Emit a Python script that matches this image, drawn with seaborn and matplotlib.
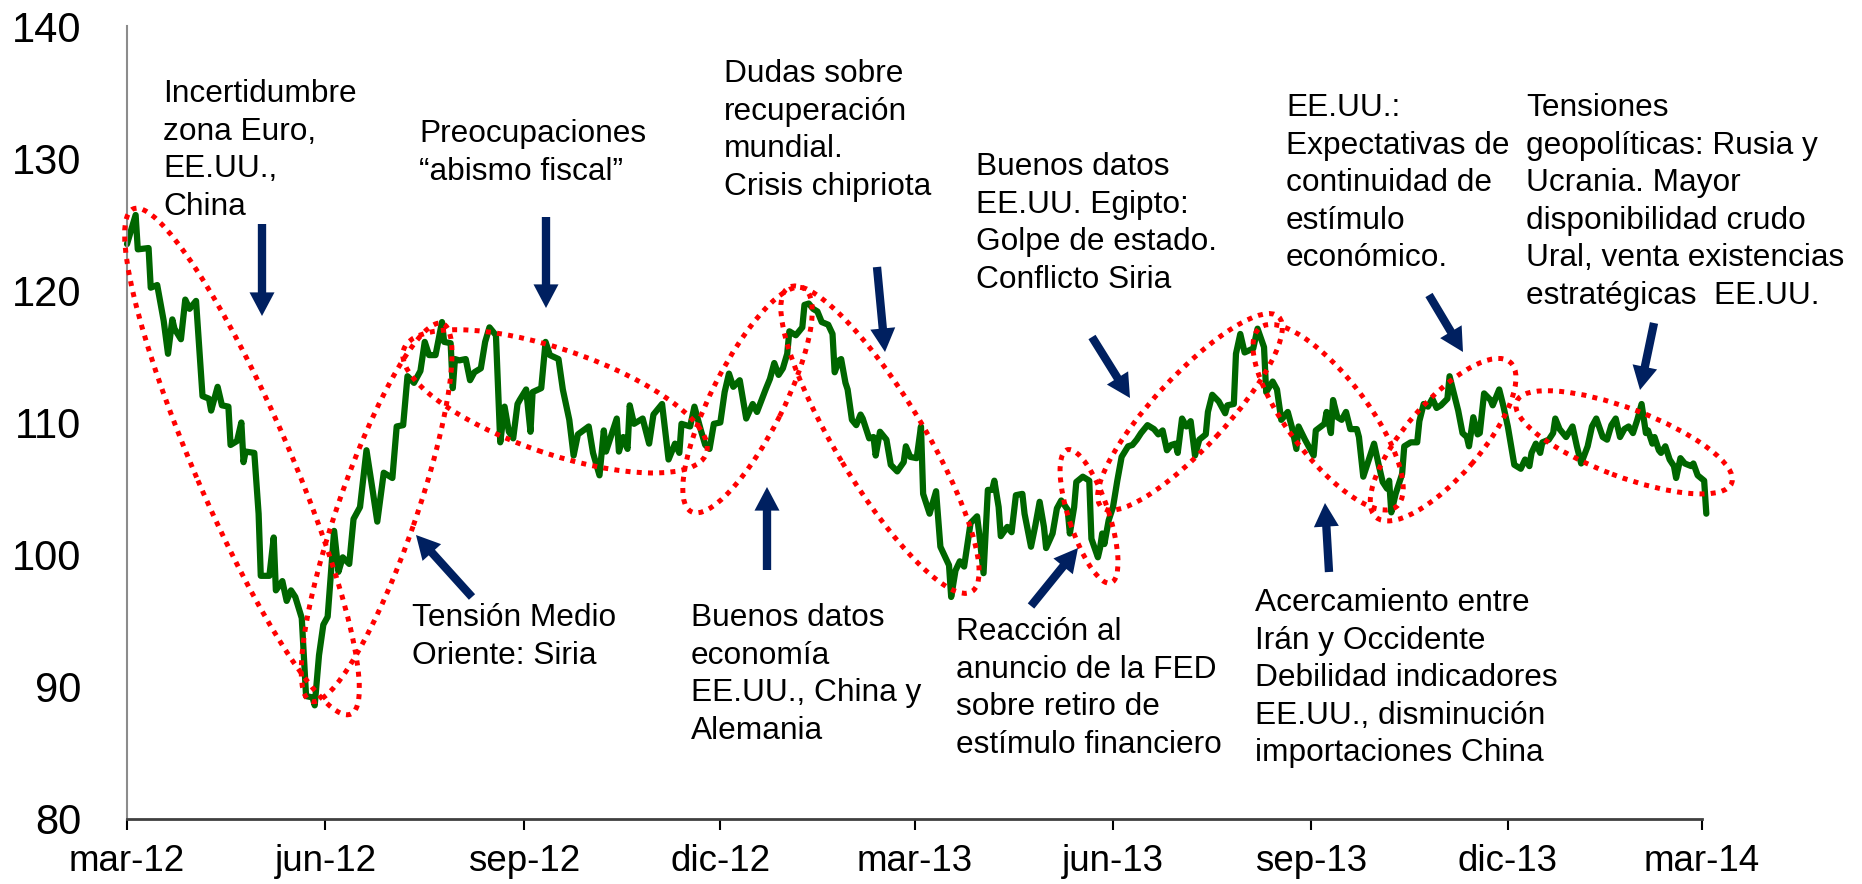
import pandas as pd
import seaborn as sns
import matplotlib.pyplot as plt
import matplotlib.dates as mdates
from matplotlib.patches import Ellipse
from matplotlib.transforms import ScaledTranslation

# --- Datos: precio del crudo (USD/bbl), dias desde 01-mar-2012 ---
dias = [0, 4, 5, 10, 11, 14, 17, 19, 21, 22, 25, 27, 29, 32, 35, 38, 39, 42, 44, 47,
        48, 51, 53, 54, 55, 59, 61, 62, 66, 68, 69, 72, 74, 76, 78, 81, 83, 86, 87, 89,
        91, 93, 95, 96, 98, 100, 103, 105, 108, 111, 114, 116, 119, 123, 125, 128, 130, 133, 136, 138,
        140, 143, 146, 147, 150, 151, 152, 154, 157, 159, 161, 164, 166, 168, 171, 173, 175, 177, 179, 181,
        182, 185, 187, 188, 192, 194, 196, 200, 202, 205, 207, 209, 214, 216, 219, 221, 222, 227, 228, 230,
        232, 233, 235, 239, 242, 244, 248, 251, 254, 256, 257, 261, 263, 266, 268, 270, 272, 275, 277, 279,
        281, 284, 287, 290, 292, 296, 298, 300, 302, 304, 306, 307, 310, 312, 313, 314, 316, 318, 320, 322,
        325, 327, 328, 330, 331, 333, 334, 336, 338, 340, 341, 344, 346, 347, 349, 352, 354, 357, 360,
        361, 363, 366, 368, 369, 372, 375, 377, 381, 382, 384, 386, 388, 391, 394, 395, 397, 399, 401, 402,
        404, 405, 408, 410, 412, 415, 416, 419, 421, 423, 425, 426, 429, 431, 433, 436, 437, 439, 440, 443,
        446, 447, 450, 451, 452, 453, 455, 457, 459, 461, 464, 466, 468, 470, 473, 476, 478, 480, 482, 484,
        486, 487, 489, 491, 493, 495, 497, 500, 501, 503, 506, 509, 510, 513, 514, 516, 518, 522, 524, 527,
        528, 531, 533, 535, 538,
        540, 542, 543, 546, 550, 551, 555, 556, 558, 559, 561, 563, 565, 567, 570, 571, 573, 576, 578, 580,
        582, 584, 585, 586, 588, 591, 592, 595, 598, 599, 601, 603, 605, 607, 609, 612, 613, 615, 617, 619,
        621, 622, 624, 626, 627, 629, 632, 633, 636, 638, 640, 643, 646, 648, 650, 651, 653, 655, 656, 659,
        661, 662, 664, 667, 670, 672, 674, 677, 679, 681, 684, 686, 688, 690, 692, 694, 696, 698, 700, 702,
        704, 705, 707, 708, 710, 711, 713, 715, 717, 718, 720, 722, 725, 726, 728, 731, 732]

precio = [123.5, 125.7, 123.1, 123.2, 120.2, 120.4, 117.7, 115.2, 117.8, 117.1, 116.3, 119.3, 118.6, 119.2, 112.0, 111.8, 110.9, 112.7, 111.3, 111.2,
          108.3, 108.6, 110.0, 107.0, 107.8, 107.7, 103.1, 98.4, 98.4, 101.3, 97.3, 98.0, 96.5, 97.3, 96.8, 95.2, 89.3, 89.2, 88.6, 92.4,
          94.7, 95.3, 99.7, 101.8, 98.7, 99.8, 99.3, 102.7, 103.6, 107.9, 104.7, 102.5, 106.2, 105.8, 109.7, 109.8, 113.5, 113.0, 113.9, 116.1,
          115.1, 115.1, 117.6, 116.1, 116.0, 112.6, 114.8, 114.7, 114.8, 113.2, 113.8, 114.1, 116.1, 117.2, 116.6, 108.5, 111.2, 109.3, 108.8, 111.4,
          111.7, 112.5, 109.3, 112.3, 112.6, 116.1, 115.1, 114.8, 112.5, 110.2, 107.5, 109.1, 109.7, 107.7, 106.0, 109.4, 107.8, 110.3, 107.8, 108.9,
          108.0, 111.3, 109.9, 110.3, 108.4, 110.6, 111.4, 107.2, 108.4, 107.7, 109.9, 109.7, 111.2, 109.4, 108.3, 108.0, 109.9, 110.0, 112.3, 113.7,
          112.7, 113.2, 110.3, 111.4, 110.8, 112.5, 113.3, 114.5, 113.6, 114.1, 115.2, 116.9, 116.6, 117.0, 117.2, 118.9, 119.0, 118.6, 118.4, 117.6,
          117.4, 116.7, 113.8, 114.7, 114.8, 113.0, 112.5, 110.2, 109.8, 110.6, 110.3, 108.8, 108.9, 107.5, 109.3, 108.7, 106.8, 106.3, 107.0,
          108.2, 107.4, 107.3, 109.7, 104.6, 103.1, 104.8, 100.6, 99.2, 96.8, 98.8, 99.5, 99.1, 102.4, 102.9, 101.6, 98.6, 104.9, 104.9, 105.6,
          103.6, 101.4, 102.1, 101.7, 104.5, 104.6, 103.1, 100.6, 102.2, 104.0, 102.1, 100.5, 101.6, 103.5, 104.1, 103.4, 101.6, 103.6, 105.5, 105.9,
          105.6, 101.2, 99.8, 100.5, 101.6, 100.8, 102.6, 103.6, 105.6, 107.4, 108.2, 108.3, 108.7, 109.2, 109.8, 109.5, 109.1, 109.4, 107.9, 108.3,
          108.4, 107.7, 110.3, 109.7, 110.1, 107.5, 108.7, 109.1, 110.8, 112.1, 111.6, 110.7, 111.3, 111.4, 115.2, 116.7, 115.3, 115.6, 117.1, 115.7,
          112.3, 113.1, 112.5, 110.2, 110.8,
          109.6, 108.0, 109.7, 108.7, 107.5, 109.4, 109.9, 110.8, 109.2, 111.7, 110.4, 110.2, 110.8, 109.5, 109.5, 108.9, 105.9, 107.4, 108.4, 106.9,
          105.5, 105.0, 105.6, 103.2, 104.6, 106.1, 108.2, 108.5, 108.5, 110.1, 111.4, 111.2, 111.8, 111.1, 111.3, 111.8, 113.5, 112.2, 110.9, 109.2,
          108.9, 108.2, 110.4, 109.1, 109.2, 112.2, 111.7, 111.3, 112.5, 111.2, 109.7, 106.8, 106.5, 107.2, 106.7, 107.7, 108.4, 107.7, 108.5, 108.7,
          109.2, 110.3, 109.5, 108.9, 109.7, 108.2, 106.9, 108.2, 109.7, 110.3, 108.9, 108.7, 109.8, 110.3, 108.9, 109.5, 109.7, 109.2, 110.2, 111.4,
          109.2, 109.4, 108.4, 108.9, 107.9, 107.7, 108.2, 107.2, 106.7, 105.8, 107.3, 106.9, 106.7, 106.9, 106.0, 105.6, 103.1]

fecha0 = pd.Timestamp('2012-03-01')
ticks_fechas = ['2012-03-01', '2012-06-01', '2012-09-01', '2012-12-01', '2013-03-01',
                '2013-06-01', '2013-09-01', '2013-12-01', '2014-03-01']
ticks_etiquetas = ['mar-12', 'jun-12', 'sep-12', 'dic-12', 'mar-13',
                   'jun-13', 'sep-13', 'dic-13', 'mar-14']
y_ticks = [80, 90, 100, 110, 120, 130, 140]

# --- Anotaciones (pixeles de la figura, origen arriba-izquierda; y = base de la 1a linea) ---
textos = [
    ("Incertidumbre\nzona Euro,\nEE.UU.,\nChina", 163, 102),
    ("Preocupaciones\n\u201cabismo fiscal\u201d", 419, 142),
    ("Dudas sobre\nrecuperación\nmundial.\nCrisis chipriota", 724, 82),
    ("Buenos datos\nEE.UU. Egipto:\nGolpe de estado.\nConflicto Siria", 976, 175),
    ("EE.UU.:\nExpectativas de\ncontinuidad de\nestímulo\neconómico.", 1286, 116),
    ("Tensiones\ngeopolíticas: Rusia y\nUcrania. Mayor\ndisponibilidad crudo\nUral, venta existencias\nestratégicas  EE.UU.", 1526, 116),
    ("Tensión Medio\nOriente: Siria", 412, 626),
    ("Buenos datos\neconomía\nEE.UU., China y\nAlemania", 691, 626),
    ("Reacción al\nanuncio de la FED\nsobre retiro de\nestímulo financiero", 956, 640),
    ("Acercamiento entre\nIrán y Occidente\nDebilidad indicadores\nEE.UU., disminución\nimportaciones China", 1255, 611),
]
PASO_LINEA = 37.6

# flechas: (cola x, cola y, punta x, punta y) en pixeles
flechas = [
    (262, 224, 262, 316),
    (546, 217, 546, 308),
    (472, 597, 416, 535),
    (877, 267, 885, 352),
    (767, 570, 767, 487),
    (1092, 337, 1130, 398),
    (1031, 606, 1078, 548),
    (1429, 295, 1463, 352),
    (1329, 572, 1325, 503),
    (1654, 323, 1640, 390),
]

# elipses: (dia centro, valor centro, largo px, ancho px, angulo)
elipses = [
    (53.3, 107.05, 550, 96, -66.7),
    (115.7, 103.2, 400, 78, 70.8),
    (198.4, 111.6, 320, 104, -19.0),
    (287.6, 111.7, 250, 72, 63.3),
    (349.0, 108.7, 355, 88, -58.9),
    (445.9, 102.9, 140, 40, -71.8),
    (492.7, 110.8, 260, 72, 47.1),
    (556.7, 110.4, 225, 80, -52.8),
    (610.0, 108.7, 205, 75, 49.1),
    (693.9, 108.5, 230, 68, -20.7),
]

W, H = 1862, 884


def px(x, y):
    return (x / W, 1 - y / H)


sns.set_theme(style='white')
plt.rcParams['font.family'] = ['Liberation Sans', 'DejaVu Sans']

df = pd.DataFrame({'fecha': fecha0 + pd.to_timedelta(dias, unit='D'), 'precio': precio})

fig = plt.figure(figsize=(W / 100, H / 100), dpi=100)
ax = fig.add_axes([127 / W, 1 - 819 / H, (1702 - 127) / W, (819 - 26) / H])

sns.lineplot(data=df, x='fecha', y='precio', ax=ax, color='#006600', linewidth=4.5, estimator=None)
ax.lines[0].set_clip_on(False)
ax.lines[0].set_solid_joinstyle('round')

ax.set_xlim(fecha0, pd.Timestamp('2014-03-01'))
ax.set_ylim(80, 140)
ax.set_yticks(y_ticks)
ax.set_yticklabels([str(v) for v in y_ticks], fontsize=30)
ax.set_xticks(pd.to_datetime(ticks_fechas))
ax.set_xticklabels(ticks_etiquetas, fontsize=26.5)
ax.set_xlabel('')
ax.set_ylabel('')

ax.tick_params(axis='y', length=0, pad=33, colors='black')
ax.tick_params(axis='x', length=8, width=1.5, direction='out', pad=10, colors='black', bottom=True)
ax.spines['top'].set_visible(False)
ax.spines['right'].set_visible(False)
ax.spines['left'].set_color('#8c8c8c')
ax.spines['left'].set_linewidth(1.5)
ax.spines['bottom'].set_color('#404040')
ax.spines['bottom'].set_linewidth(2)
ax.grid(False)

# elipses punteadas rojas
for d, v, largo, ancho, ang in elipses:
    cx = mdates.date2num(fecha0 + pd.Timedelta(days=d))
    tr = fig.dpi_scale_trans + ScaledTranslation(cx, v, ax.transData)
    e = Ellipse((0, 0), largo / 100, ancho / 100, angle=ang, transform=tr, fill=False,
                edgecolor='#ff0000', linewidth=3.6, linestyle=(0, (1, 1.25)), clip_on=False, zorder=4)
    ax.add_patch(e)

# flechas azules
for x0, y0, x1, y1 in flechas:
    ax.annotate('', xy=px(x1, y1), xytext=px(x0, y0), xycoords='figure fraction',
                textcoords='figure fraction',
                arrowprops=dict(arrowstyle='simple,head_length=17,head_width=18,tail_width=6',
                                mutation_scale=1, color='#002060', lw=0, shrinkA=0, shrinkB=0),
                zorder=5, annotation_clip=False)

# textos: va='baseline' alinea la ultima linea, asi que se desplaza segun el numero de lineas
for t, x, y in textos:
    n = t.count('\n')
    fig.text(x / W, 1 - (y + n * PASO_LINEA) / H, t, fontsize=22.8, ha='left', va='baseline',
             linespacing=1.33, color='black')

fig.savefig('out.png', dpi=100)
